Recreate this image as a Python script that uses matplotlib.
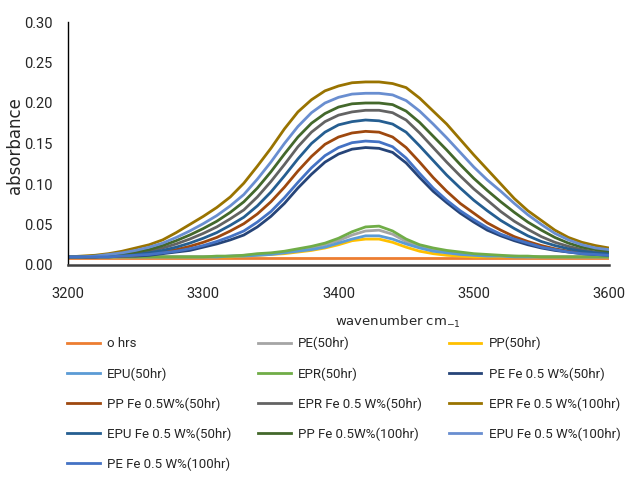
import numpy as np
import matplotlib
matplotlib.use("Agg")
import matplotlib.pyplot as plt

# wavenumber axis (cm-1), every 10
wavenumber = list(range(3200, 3601, 10))

# absorbance
o_hrs = [0.009, 0.009, 0.009, 0.009, 0.009, 0.009, 0.009, 0.009, 0.009, 0.009,
         0.009, 0.009, 0.009, 0.009, 0.009, 0.009, 0.009, 0.009, 0.009, 0.009,
         0.009, 0.009, 0.009, 0.009, 0.009, 0.009, 0.009, 0.009, 0.009, 0.009,
         0.009, 0.009, 0.009, 0.009, 0.009, 0.009, 0.009, 0.009, 0.009, 0.009, 0.009]
pe_50 = [0.010, 0.010, 0.010, 0.010, 0.010, 0.010, 0.010, 0.010, 0.010, 0.010,
         0.010, 0.010, 0.011, 0.012, 0.013, 0.014, 0.016, 0.018, 0.021, 0.025,
         0.030, 0.037, 0.042, 0.043, 0.038, 0.029, 0.023, 0.019, 0.016, 0.014,
         0.013, 0.012, 0.011, 0.011, 0.010, 0.010, 0.010, 0.010, 0.010, 0.010, 0.010]
pp_50 = [0.010, 0.010, 0.010, 0.010, 0.010, 0.010, 0.010, 0.010, 0.010, 0.010,
         0.010, 0.010, 0.010, 0.011, 0.012, 0.013, 0.014, 0.016, 0.018, 0.021,
         0.025, 0.030, 0.032, 0.032, 0.028, 0.022, 0.017, 0.014, 0.012, 0.011,
         0.010, 0.010, 0.010, 0.010, 0.010, 0.010, 0.010, 0.010, 0.010, 0.010, 0.010]
epu_50 = [0.010, 0.010, 0.010, 0.010, 0.010, 0.010, 0.010, 0.010, 0.010, 0.010,
          0.010, 0.010, 0.011, 0.011, 0.012, 0.013, 0.015, 0.017, 0.019, 0.022,
          0.027, 0.032, 0.036, 0.036, 0.032, 0.026, 0.021, 0.017, 0.015, 0.013,
          0.012, 0.011, 0.011, 0.010, 0.010, 0.010, 0.010, 0.010, 0.010, 0.010, 0.010]
epr_50 = [0.010, 0.010, 0.010, 0.010, 0.010, 0.010, 0.010, 0.010, 0.010, 0.010,
          0.010, 0.011, 0.011, 0.012, 0.014, 0.015, 0.017, 0.020, 0.023, 0.027,
          0.033, 0.041, 0.047, 0.048, 0.042, 0.032, 0.025, 0.021, 0.018, 0.016,
          0.014, 0.013, 0.012, 0.011, 0.011, 0.010, 0.010, 0.010, 0.010, 0.010, 0.010]
pe_fe_50 = [0.010, 0.010, 0.010, 0.010, 0.011, 0.011, 0.012, 0.014, 0.016, 0.018,
            0.022, 0.026, 0.031, 0.037, 0.047, 0.060, 0.076, 0.095, 0.112, 0.127,
            0.137, 0.143, 0.145, 0.144, 0.139, 0.126, 0.108, 0.091, 0.077, 0.064,
            0.053, 0.043, 0.036, 0.030, 0.025, 0.021, 0.018, 0.016, 0.014, 0.013, 0.012]
pp_fe_50 = [0.010, 0.010, 0.010, 0.011, 0.011, 0.012, 0.014, 0.016, 0.019, 0.023,
            0.028, 0.034, 0.042, 0.051, 0.063, 0.078, 0.096, 0.116, 0.134, 0.149,
            0.158, 0.163, 0.165, 0.164, 0.158, 0.145, 0.127, 0.108, 0.091, 0.076,
            0.064, 0.052, 0.043, 0.035, 0.029, 0.024, 0.020, 0.017, 0.015, 0.014, 0.013]
epr_fe_50 = [0.010, 0.010, 0.010, 0.011, 0.013, 0.015, 0.017, 0.021, 0.026, 0.032,
             0.039, 0.047, 0.057, 0.068, 0.084, 0.103, 0.124, 0.146, 0.164, 0.177,
             0.185, 0.189, 0.191, 0.191, 0.188, 0.179, 0.163, 0.145, 0.127, 0.110,
             0.094, 0.080, 0.066, 0.054, 0.044, 0.035, 0.028, 0.023, 0.019, 0.016, 0.015]
epr_fe_100 = [0.010, 0.011, 0.012, 0.014, 0.017, 0.021, 0.025, 0.031, 0.040, 0.050,
              0.060, 0.071, 0.084, 0.101, 0.122, 0.144, 0.168, 0.189, 0.204, 0.215,
              0.221, 0.225, 0.226, 0.226, 0.224, 0.219, 0.206, 0.190, 0.174, 0.155,
              0.136, 0.118, 0.100, 0.082, 0.067, 0.055, 0.043, 0.034, 0.028, 0.024, 0.021]
epu_fe_50 = [0.010, 0.010, 0.010, 0.011, 0.012, 0.013, 0.015, 0.018, 0.022, 0.027,
             0.033, 0.040, 0.049, 0.059, 0.073, 0.090, 0.110, 0.131, 0.150, 0.164,
             0.173, 0.177, 0.179, 0.178, 0.174, 0.164, 0.147, 0.129, 0.111, 0.095,
             0.080, 0.067, 0.055, 0.045, 0.036, 0.029, 0.024, 0.020, 0.017, 0.015, 0.014]
pp_fe_100 = [0.010, 0.010, 0.011, 0.012, 0.014, 0.016, 0.019, 0.024, 0.030, 0.037,
             0.045, 0.054, 0.065, 0.078, 0.095, 0.115, 0.137, 0.158, 0.175, 0.187,
             0.195, 0.199, 0.200, 0.200, 0.198, 0.190, 0.176, 0.159, 0.142, 0.124,
             0.107, 0.092, 0.078, 0.065, 0.053, 0.043, 0.034, 0.027, 0.022, 0.019, 0.017]
epu_fe_100 = [0.010, 0.010, 0.011, 0.013, 0.015, 0.018, 0.022, 0.027, 0.034, 0.042,
              0.051, 0.061, 0.073, 0.087, 0.106, 0.127, 0.150, 0.171, 0.188, 0.200,
              0.207, 0.211, 0.212, 0.212, 0.210, 0.203, 0.190, 0.174, 0.157, 0.139,
              0.121, 0.105, 0.091, 0.076, 0.062, 0.050, 0.039, 0.031, 0.025, 0.021, 0.019]
pe_fe_100 = [0.010, 0.010, 0.010, 0.010, 0.011, 0.012, 0.013, 0.015, 0.017, 0.020,
             0.024, 0.029, 0.035, 0.042, 0.053, 0.066, 0.083, 0.102, 0.120, 0.135,
             0.145, 0.151, 0.153, 0.152, 0.146, 0.132, 0.113, 0.095, 0.080, 0.067,
             0.056, 0.046, 0.038, 0.032, 0.027, 0.022, 0.019, 0.016, 0.014, 0.013, 0.012]

series = [o_hrs, pe_50, pp_50, epu_50, epr_50, pe_fe_50, pp_fe_50, epr_fe_50,
          epr_fe_100, epu_fe_50, pp_fe_100, epu_fe_100, pe_fe_100]
labels = ["o hrs", "PE(50hr)", "PP(50hr)", "EPU(50hr)", "EPR(50hr)",
          "PE Fe 0.5 W%(50hr)", "PP Fe 0.5W%(50hr)", "EPR Fe 0.5 W%(50hr)",
          "EPR Fe 0.5 W%(100hr)", "EPU Fe 0.5 W%(50hr)", "PP Fe 0.5W%(100hr)",
          "EPU Fe 0.5 W%(100hr)", "PE Fe 0.5 W%(100hr)"]
colors = ["#ED7D31", "#A5A5A5", "#FFC000", "#5B9BD5", "#70AD47", "#264478",
          "#9E480E", "#636363", "#997300", "#255E91", "#43682B", "#698ED0", "#4472C4"]

narrow = ["Roboto", "DejaVu Sans"]

fig = plt.figure(figsize=(6.25, 4.79), dpi=100)
ax = fig.add_axes([68/625, 1-265/479, 541/625, 243/479])

lines = []
for y, lab, c in zip(series, labels, colors):
    l, = ax.plot(wavenumber, y, color=c, lw=2.0, label=lab)
    lines.append(l)

ax.set_xlim(3200, 3600)
ax.set_ylim(0, 0.30)
ax.set_xticks([3200, 3300, 3400, 3500, 3600])
ax.set_yticks([0, 0.05, 0.10, 0.15, 0.20, 0.25, 0.30])
ax.set_yticklabels(["%.2f" % v for v in ax.get_yticks()])
ax.tick_params(length=0, labelsize=10.5, colors="#262626")
ax.tick_params(axis="y", pad=11)
ax.tick_params(axis="x", pad=16)
for t in ax.get_xticklabels() + ax.get_yticklabels():
    t.set_family(narrow)

ax.spines["top"].set_visible(False)
ax.spines["right"].set_visible(False)
ax.spines["left"].set_color("black")
ax.spines["left"].set_linewidth(1.0)
ax.spines["bottom"].set_color("#404040")
ax.spines["bottom"].set_linewidth(1.8)

fig.text(15/625, 1-146/479, "absorbance", rotation=90, ha="center", va="center",
         fontsize=12, color="#262626")
fig.text(335/625, 1-322/479, r"wavenumber cm$_{\mathregular{-1}}$", ha="left", va="center",
         fontsize=9.5, color="#262626")

# excel fills the legend row by row
order = [0, 3, 6, 9, 12, 1, 4, 7, 10, 2, 5, 8, 11]
leg = fig.legend([lines[i] for i in order], [labels[i] for i in order],
                 loc="upper left", bbox_to_anchor=(67/625, 1-337/479), ncol=3,
                 frameon=False, borderpad=0, borderaxespad=0,
                 handlelength=2.5, handletextpad=0.55, columnspacing=2.0,
                 labelspacing=1.27, prop={"family": narrow, "size": 9.5})
for t in leg.get_texts():
    t.set_color("#262626")

fig.savefig("out.png", dpi=100)
